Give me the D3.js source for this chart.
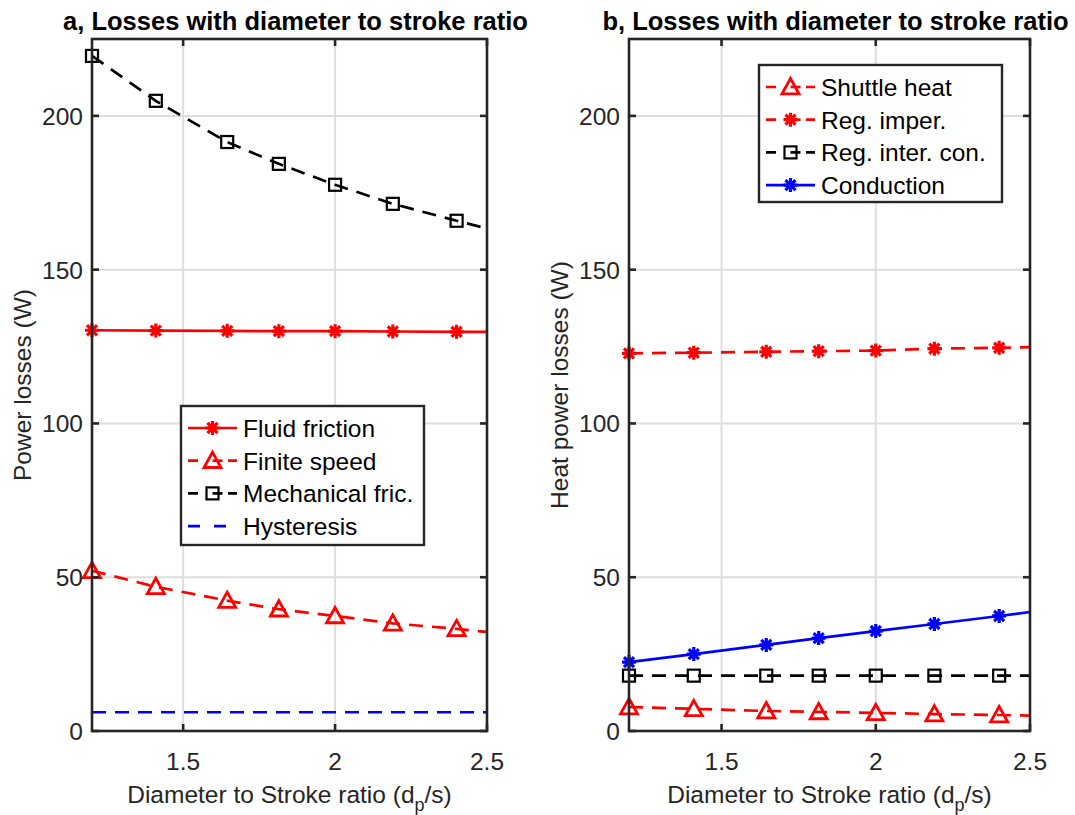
<!DOCTYPE html>
<html>
<head>
<title>Losses with diameter to stroke ratio</title>
<script src="https://d3js.org/d3.v7.min.js"></script>
<style>
    body { margin: 0; background: #fff; }
    text { font-family: "Liberation Sans", Arial, sans-serif; }
</style>
</head>
<body>
<div id="chart"></div>
<script>
    // diameter to stroke ratio samples (last one has no marker)
    var ratio = [1.2, 1.41, 1.645, 1.815, 2.0, 2.19, 2.4, 2.5]
    var xTicks = [1.5, 2, 2.5]
    var yTicks = [0, 50, 100, 150, 200]

    // panel a, power losses (W)
    var fluidFriction = [130.3, 130.2, 130.1, 130.0, 130.0, 129.9, 129.8, 129.8]
    var finiteSpeed = [52.1, 46.9, 42.4, 39.6, 37.4, 35.0, 33.2, 32.2]
    var mechanicalFric = [219.5, 204.9, 191.5, 184.4, 177.6, 171.4, 165.9, 163.4]
    var hysteresis = [6.1, 6.1, 6.1, 6.1, 6.1, 6.1, 6.1, 6.1]

    // panel b, heat power losses (W)
    var shuttleHeat = [7.8, 7.2, 6.5, 6.2, 5.9, 5.5, 5.2, 5.0]
    var regImper = [122.8, 123.0, 123.3, 123.5, 123.7, 124.3, 124.6, 124.8]
    var regInterCon = [18.0, 18.0, 18.0, 18.0, 18.0, 18.0, 18.0, 18.0]
    var conduction = [22.4, 25.0, 28.0, 30.2, 32.5, 34.8, 37.4, 38.7]

    var W = 1075, H = 815
    var dash = "14,9"
    var axisColor = "#262626"

    var svg = d3.select("#chart").append("svg")
        .attr("width", W)
        .attr("height", H)

    var panels = [
        {
            left: 92, right: 487, title: "a, Losses with diameter to stroke ratio",
            ylabel: "Power losses (W)",
            legend: { x: 181, y: 406, w: 243, h: 139 },
            series: [
                { name: "Fluid friction", values: fluidFriction, color: "#ff0000", dashed: false, marker: "star" },
                { name: "Finite speed", values: finiteSpeed, color: "#ff0000", dashed: true, marker: "triangle" },
                { name: "Mechanical fric.", values: mechanicalFric, color: "#000000", dashed: true, marker: "square" },
                { name: "Hysteresis", values: hysteresis, color: "#0000ff", dashed: true, marker: null }
            ]
        },
        {
            left: 629, right: 1030, title: "b, Losses with diameter to stroke ratio",
            ylabel: "Heat power losses (W)",
            legend: { x: 759, y: 65, w: 243, h: 137 },
            series: [
                { name: "Shuttle heat", values: shuttleHeat, color: "#ff0000", dashed: true, marker: "triangle" },
                { name: "Reg. imper.", values: regImper, color: "#ff0000", dashed: true, marker: "star" },
                { name: "Reg. inter. con.", values: regInterCon, color: "#000000", dashed: true, marker: "square" },
                { name: "Conduction", values: conduction, color: "#0000ff", dashed: false, marker: "star" }
            ]
        }
    ]

    var plotTop = 39, plotBottom = 731

    // draw a marker into g at (cx, cy)
    function drawMarker(g, type, cx, cy, color) {
        if (type === "star") {
            var r = 7, k = r * 0.72
            var p = "M" + (cx - r) + "," + cy + "L" + (cx + r) + "," + cy +
                "M" + cx + "," + (cy - r) + "L" + cx + "," + (cy + r) +
                "M" + (cx - k) + "," + (cy - k) + "L" + (cx + k) + "," + (cy + k) +
                "M" + (cx - k) + "," + (cy + k) + "L" + (cx + k) + "," + (cy - k)
            g.append("path").attr("d", p).attr("stroke", color).attr("stroke-width", 3.2).attr("fill", "none")
        } else if (type === "triangle") {
            var s = 8.5
            g.append("path")
                .attr("d", "M" + cx + "," + (cy - s) + "L" + (cx + s) + "," + (cy + s * 0.8) + "L" + (cx - s) + "," + (cy + s * 0.8) + "Z")
                .attr("stroke", color).attr("stroke-width", 2.8).attr("fill", "none")
        } else if (type === "square") {
            var h = 6
            g.append("rect")
                .attr("x", cx - h).attr("y", cy - h).attr("width", 2 * h).attr("height", 2 * h)
                .attr("stroke", color).attr("stroke-width", 2.2).attr("fill", "none")
        }
    }

    panels.forEach(function (p) {
        var x = d3.scaleLinear().domain([1.2, 2.5]).range([p.left, p.right])
        var y = d3.scaleLinear().domain([0, 225]).range([plotBottom, plotTop])
        var g = svg.append("g")

        // grid
        g.selectAll(".gx").data(xTicks.filter(function (t) { return t < 2.5; }))
            .enter().append("line")
            .attr("x1", function (d) { return x(d); }).attr("x2", function (d) { return x(d); })
            .attr("y1", plotTop).attr("y2", plotBottom)
            .attr("stroke", "#dedede").attr("stroke-width", 2)
        g.selectAll(".gy").data(yTicks.filter(function (t) { return t > 0; }))
            .enter().append("line")
            .attr("x1", p.left).attr("x2", p.right)
            .attr("y1", function (d) { return y(d); }).attr("y2", function (d) { return y(d); })
            .attr("stroke", "#dedede").attr("stroke-width", 2)

        // lines and markers
        p.series.forEach(function (s) {
            var line = d3.line()
                .x(function (d, i) { return x(ratio[i]); })
                .y(function (d) { return y(d); })
            g.append("path")
                .datum(s.values)
                .attr("fill", "none")
                .attr("stroke", s.color)
                .attr("stroke-width", 2.7)
                .attr("stroke-dasharray", s.dashed ? dash : null)
                .attr("d", line)
            if (s.marker) {
                s.values.slice(0, 7).forEach(function (v, i) {
                    drawMarker(g, s.marker, x(ratio[i]), y(v), s.color)
                })
            }
        })

        // box and ticks
        g.append("rect")
            .attr("x", p.left).attr("y", plotTop)
            .attr("width", p.right - p.left).attr("height", plotBottom - plotTop)
            .attr("fill", "none").attr("stroke", axisColor).attr("stroke-width", 2.6)

        var tickLen = 7
        xTicks.forEach(function (t) {
            g.append("line").attr("x1", x(t)).attr("x2", x(t)).attr("y1", plotBottom).attr("y2", plotBottom - tickLen)
                .attr("stroke", axisColor).attr("stroke-width", 2.6)
            g.append("line").attr("x1", x(t)).attr("x2", x(t)).attr("y1", plotTop).attr("y2", plotTop + tickLen)
                .attr("stroke", axisColor).attr("stroke-width", 2.6)
            g.append("text").attr("x", x(t)).attr("y", plotBottom + 39)
                .attr("text-anchor", "middle").attr("font-size", 24.5).attr("fill", axisColor)
                .text(t)
        })
        yTicks.forEach(function (t) {
            g.append("line").attr("x1", p.left).attr("x2", p.left + tickLen).attr("y1", y(t)).attr("y2", y(t))
                .attr("stroke", axisColor).attr("stroke-width", 2.6)
            g.append("line").attr("x1", p.right).attr("x2", p.right - tickLen).attr("y1", y(t)).attr("y2", y(t))
                .attr("stroke", axisColor).attr("stroke-width", 2.6)
            g.append("text").attr("x", p.left - 9).attr("y", y(t) + 9)
                .attr("text-anchor", "end").attr("font-size", 24.5).attr("fill", axisColor)
                .text(t)
        })

        // title
        g.append("text")
            .attr("x", (p.left + p.right) / 2 + 6).attr("y", 30)
            .attr("text-anchor", "middle").attr("font-size", 25.5).attr("font-weight", "bold").attr("fill", "#000")
            .text(p.title)

        // x label with subscript
        var xl = g.append("text")
            .attr("x", (p.left + p.right) / 2).attr("y", 803)
            .attr("text-anchor", "middle").attr("font-size", 24.5).attr("fill", axisColor)
        xl.append("tspan").text("Diameter to Stroke ratio (d")
        xl.append("tspan").attr("dy", 8).attr("font-size", 18).text("p")
        xl.append("tspan").attr("dy", -8).text("/s)")

        // y label
        g.append("text")
            .attr("transform", "translate(" + (p.left - 61) + "," + ((plotTop + plotBottom) / 2) + ") rotate(-90)")
            .attr("text-anchor", "middle").attr("font-size", 24.5).attr("fill", axisColor)
            .text(p.ylabel)

        // legend
        var L = p.legend
        var lg = g.append("g")
        lg.append("rect")
            .attr("x", L.x).attr("y", L.y).attr("width", L.w).attr("height", L.h)
            .attr("fill", "#fff").attr("stroke", axisColor).attr("stroke-width", 2.4)
        p.series.forEach(function (s, i) {
            var cy = L.y + 22 + i * 32.7
            var x0 = L.x + 7, x1 = L.x + 56, cx = (x0 + x1) / 2
            if (s.dashed && s.marker) {
                lg.append("line").attr("x1", x0).attr("x2", x1).attr("y1", cy).attr("y2", cy)
                    .attr("stroke", s.color).attr("stroke-width", 2.7).attr("stroke-dasharray", "10,30")
                lg.append("line").attr("x1", cx).attr("x2", cx + 10).attr("y1", cy).attr("y2", cy)
                    .attr("stroke", s.color).attr("stroke-width", 2.7)
            } else if (s.dashed) {
                lg.append("line").attr("x1", x0).attr("x2", x0 + 38).attr("y1", cy).attr("y2", cy)
                    .attr("stroke", s.color).attr("stroke-width", 2.7).attr("stroke-dasharray", "12,14")
            } else {
                lg.append("line").attr("x1", x0).attr("x2", x1).attr("y1", cy).attr("y2", cy)
                    .attr("stroke", s.color).attr("stroke-width", 2.7)
            }
            if (s.marker) drawMarker(lg, s.marker, cx, cy, s.color)
            lg.append("text").attr("x", L.x + 62).attr("y", cy + 9)
                .attr("font-size", 24.5).attr("fill", "#000")
                .text(s.name)
        })
    })
</script>
</body>
</html>
